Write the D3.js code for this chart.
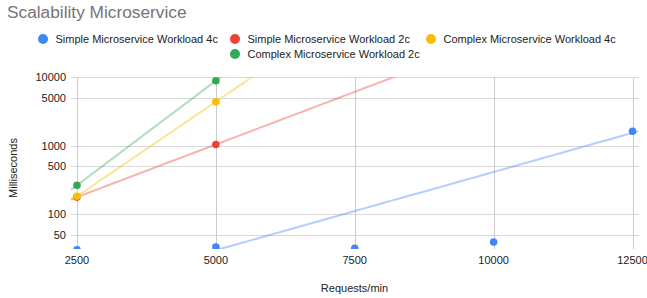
<!DOCTYPE html>
<html>
<head>
<meta charset="utf-8">
<title>Scalability Microservice</title>
<style>
  body { margin: 0; background: #fff; }
  svg { font-family: "Liberation Sans", Arial, sans-serif; }
  .grid line { stroke: #d9d9d9; stroke-width: 1; shape-rendering: crispEdges; }
  .grid .v { stroke: #cccccc; }
  .tick-label { font-size: 11px; fill: #222; }
</style>
</head>
<body>
<script src="https://d3js.org/d3.v7.min.js"></script>
<script>
'use strict';
// data
const requests = [2500, 5000, 7500, 10000, 12500];
const seriesNames = [
  'Simple Microservice Workload 4c',
  'Simple Microservice Workload 2c',
  'Complex Microservice Workload 4c',
  'Complex Microservice Workload 2c'
];
const simple4c = [30.4, 33.3, 31.9, 39.4, 1630];
const simple2c = [178, 1045, null, null, null];
const complex4c = [183, 4405, null, null, null];
const complex2c = [265, 8920, null, null, null];
const colors = ['#4285f4', '#ea4335', '#fbbc04', '#34a853'];
const xTicks = [2500, 5000, 7500, 10000, 12500];
const yTicks = [50, 100, 500, 1000, 5000, 10000];

const W = 647, H = 298;
const plot = {left: 71, right: 638.5, top: 77.3, bottom: 249};

const x = d3.scaleLinear().domain([2500, 12500]).range([77, 632.5]);
const y = d3.scaleLog().domain([31.1, 10000]).range([plot.bottom, plot.top]);

const svg = d3.select('body').append('svg')
  .attr('width', W).attr('height', H);

// title
svg.append('text')
  .attr('x', 7).attr('y', 18)
  .attr('font-size', '17.3px').attr('fill', '#757575')
  .text('Scalability Microservice');

// legend
const legendPos = [[43, 39], [235, 39], [431, 39], [235, 54]];
const legend = svg.append('g').selectAll('g')
  .data(seriesNames)
  .join('g')
  .attr('transform', (d, i) => 'translate(' + legendPos[i][0] + ',' + legendPos[i][1] + ')');
legend.append('circle').attr('r', 5).attr('fill', (d, i) => colors[i]);
legend.append('text')
  .attr('x', 12.5).attr('y', 4)
  .attr('font-size', '11px').attr('fill', '#222')
  .text(d => d);

// gridlines
const grid = svg.append('g').attr('class', 'grid');
grid.selectAll('line.h')
  .data(yTicks)
  .join('line')
  .attr('class', 'h')
  .attr('x1', plot.left).attr('x2', plot.right)
  .attr('y1', d => Math.round(y(d)) + 0.5).attr('y2', d => Math.round(y(d)) + 0.5);
grid.selectAll('line.v')
  .data(xTicks)
  .join('line')
  .attr('class', 'v')
  .attr('x1', d => Math.round(x(d)) + 0.5).attr('x2', d => Math.round(x(d)) + 0.5)
  .attr('y1', plot.top).attr('y2', plot.bottom);

// tick labels
svg.append('g').selectAll('text')
  .data(yTicks)
  .join('text')
  .attr('class', 'tick-label')
  .attr('x', 66).attr('y', d => y(d))
  .attr('dy', '0.36em')
  .attr('text-anchor', 'end')
  .text(d => d);
svg.append('g').selectAll('text')
  .data(xTicks)
  .join('text')
  .attr('class', 'tick-label')
  .attr('x', d => x(d)).attr('y', 264)
  .attr('text-anchor', 'middle')
  .text(d => d);

// axis titles
svg.append('text')
  .attr('x', 354.5).attr('y', 292)
  .attr('text-anchor', 'middle')
  .attr('font-size', '11px').attr('fill', '#222')
  .text('Requests/min');
svg.append('text')
  .attr('transform', 'translate(17,168) rotate(-90)')
  .attr('text-anchor', 'middle')
  .attr('font-size', '11px').attr('fill', '#222')
  .text('Milliseconds');

// clip to chart area
svg.append('clipPath').attr('id', 'area')
  .append('rect')
  .attr('x', plot.left).attr('y', plot.top)
  .attr('width', plot.right - plot.left).attr('height', plot.bottom - plot.top);

const allSeries = [simple4c, simple2c, complex4c, complex2c].map((vals, i) =>
  vals.map((v, j) => ({x: requests[j], y: v})).filter(p => p.y != null));

// exponential trendline, weighted least squares on ln(y)
function expFit(pts) {
  let sw = 0, sx = 0, sl = 0;
  pts.forEach(p => { sw += p.y; sx += p.y * p.x; sl += p.y * Math.log(p.y); });
  const mx = sx / sw, ml = sl / sw;
  let num = 0, den = 0;
  pts.forEach(p => {
    num += p.y * (p.x - mx) * (Math.log(p.y) - ml);
    den += p.y * (p.x - mx) * (p.x - mx);
  });
  const b = num / den;
  const a = ml - b * mx;
  return v => Math.exp(a + b * v);
}

const xEdge = [x.invert(plot.left), x.invert(plot.right)];
const chart = svg.append('g').attr('clip-path', 'url(#area)');

chart.selectAll('path.trend')
  .data(allSeries)
  .join('path')
  .attr('class', 'trend')
  .attr('fill', 'none')
  .attr('stroke', (d, i) => colors[i])
  .attr('stroke-opacity', 0.4)
  .attr('stroke-width', 2)
  .attr('d', pts => {
    const f = expFit(pts);
    const xs = d3.range(0, 61).map(k => xEdge[0] + (xEdge[1] - xEdge[0]) * k / 60);
    return d3.line().x(v => x(v)).y(v => y(Math.max(f(v), 1)))(xs);
  });

allSeries.forEach((pts, i) => {
  chart.append('g').selectAll('circle')
    .data(pts)
    .join('circle')
    .attr('cx', p => x(p.x))
    .attr('cy', p => y(p.y))
    .attr('r', 3.8)
    .attr('fill', colors[i]);
});
</script>
</body>
</html>
